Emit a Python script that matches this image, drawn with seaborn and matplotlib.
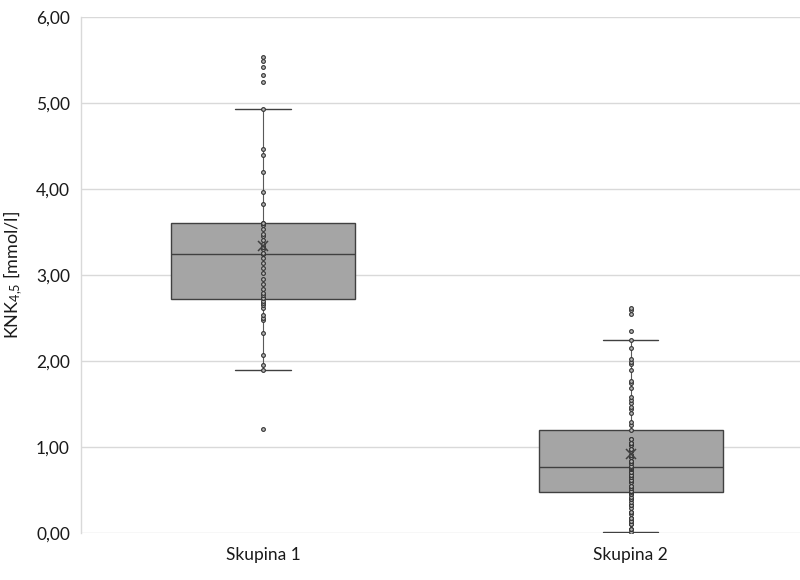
import matplotlib
matplotlib.use("Agg")
import matplotlib.pyplot as plt
import matplotlib.ticker as mticker
import seaborn as sns
import pandas as pd

sns.set_theme(style="whitegrid")
plt.rcParams['font.family'] = ['Lato', 'DejaVu Sans']
plt.rcParams['mathtext.default'] = 'regular'

# Hodnoty (překrývající se body zopakovány)
skupiny = ["Skupina 1", "Skupina 2"]

skupina1 = [
    1.21, 1.90, 1.95, 2.07, 2.32, 2.48, 2.50, 2.53, 2.62, 2.65, 2.67, 2.70,
    2.73, 2.73, 2.77, 2.79, 2.84, 2.90, 2.95, 3.02, 3.08, 3.14, 3.20, 3.24,
    3.25, 3.26, 3.30, 3.33, 3.33, 3.36, 3.41, 3.45, 3.48, 3.54, 3.58, 3.61, 3.61,
    3.83, 3.97, 4.20, 4.39, 4.47, 4.93, 5.25, 5.33, 5.42, 5.49, 5.54,
]

skupina2 = [
    0.01, 0.05, 0.05, 0.10, 0.10, 0.14, 0.14, 0.18, 0.18, 0.22, 0.25, 0.25,
    0.29, 0.33, 0.33, 0.36, 0.39, 0.39, 0.42, 0.45, 0.45,
    0.48, 0.49, 0.49, 0.52, 0.52, 0.55, 0.55, 0.59, 0.59, 0.62, 0.62, 0.65, 0.65,
    0.68, 0.68, 0.71, 0.71, 0.74, 0.74, 0.76, 0.76,
    0.77, 0.78, 0.81, 0.81, 0.84, 0.84, 0.88, 0.88, 0.91, 0.91, 0.95, 0.95,
    0.98, 0.98, 1.02, 1.02, 1.05, 1.05, 1.05, 1.09, 1.09, 1.20,
    1.26, 1.29, 1.40, 1.44, 1.47, 1.51, 1.55, 1.58, 1.69, 1.74, 1.77, 1.90,
    1.97, 1.99, 2.02, 2.15, 2.25, 2.35, 2.55, 2.59, 2.62,
]

df = pd.DataFrame({
    "skupina": [skupiny[0]] * len(skupina1) + [skupiny[1]] * len(skupina2),
    "knk": skupina1 + skupina2,
})

fig = plt.figure(figsize=(8, 5.8), dpi=100)
ax = fig.add_axes([81 / 800, 47 / 580, 719 / 800, 516 / 580])

sns.boxplot(
    data=df, x="skupina", y="knk", order=skupiny, ax=ax,
    color="#a5a5a5", linecolor="#404040", linewidth=1.0, width=0.5,
    showfliers=False, whis=1.5, saturation=1,
    showmeans=True,
    meanprops={"marker": "x", "markeredgecolor": "#404040", "markersize": 7,
               "markeredgewidth": 1.1, "zorder": 5},
    whiskerprops={"color": "#595959", "linewidth": 0.8},
    capprops={"color": "#404040", "linewidth": 1.0},
    capwidths=0.15,
)

# Všechny body
sns.stripplot(
    data=df, x="skupina", y="knk", order=skupiny, ax=ax,
    jitter=False, size=2.7, color="#b8b8b8", edgecolor="#333333", linewidth=0.8,
    zorder=4,
)

ax.set_ylim(0, 6)
ax.set_xlim(-0.495, 1.46)
ax.yaxis.set_major_locator(mticker.MultipleLocator(1))
ax.yaxis.set_major_formatter(mticker.FuncFormatter(lambda v, p: f"{v:.2f}".replace(".", ",")))

ax.grid(axis="y", color="#d9d9d9", linewidth=1)
ax.grid(axis="x", visible=False)
for s in ["top", "right", "bottom"]:
    ax.spines[s].set_visible(False)
ax.spines["left"].set_color("#d9d9d9")
ax.spines["left"].set_linewidth(1)
ax.set_axisbelow(True)

ax.tick_params(axis="both", length=0, labelsize=12.5, colors="#1a1a1a")
ax.tick_params(axis="y", pad=8)
ax.tick_params(axis="x", pad=10)
ax.set_xlabel("")
ax.set_ylabel("KNK$_{4{,}5}$ [mmol/l]", fontsize=13, color="#1a1a1a", labelpad=8)

fig.savefig("out.png", dpi=100)
